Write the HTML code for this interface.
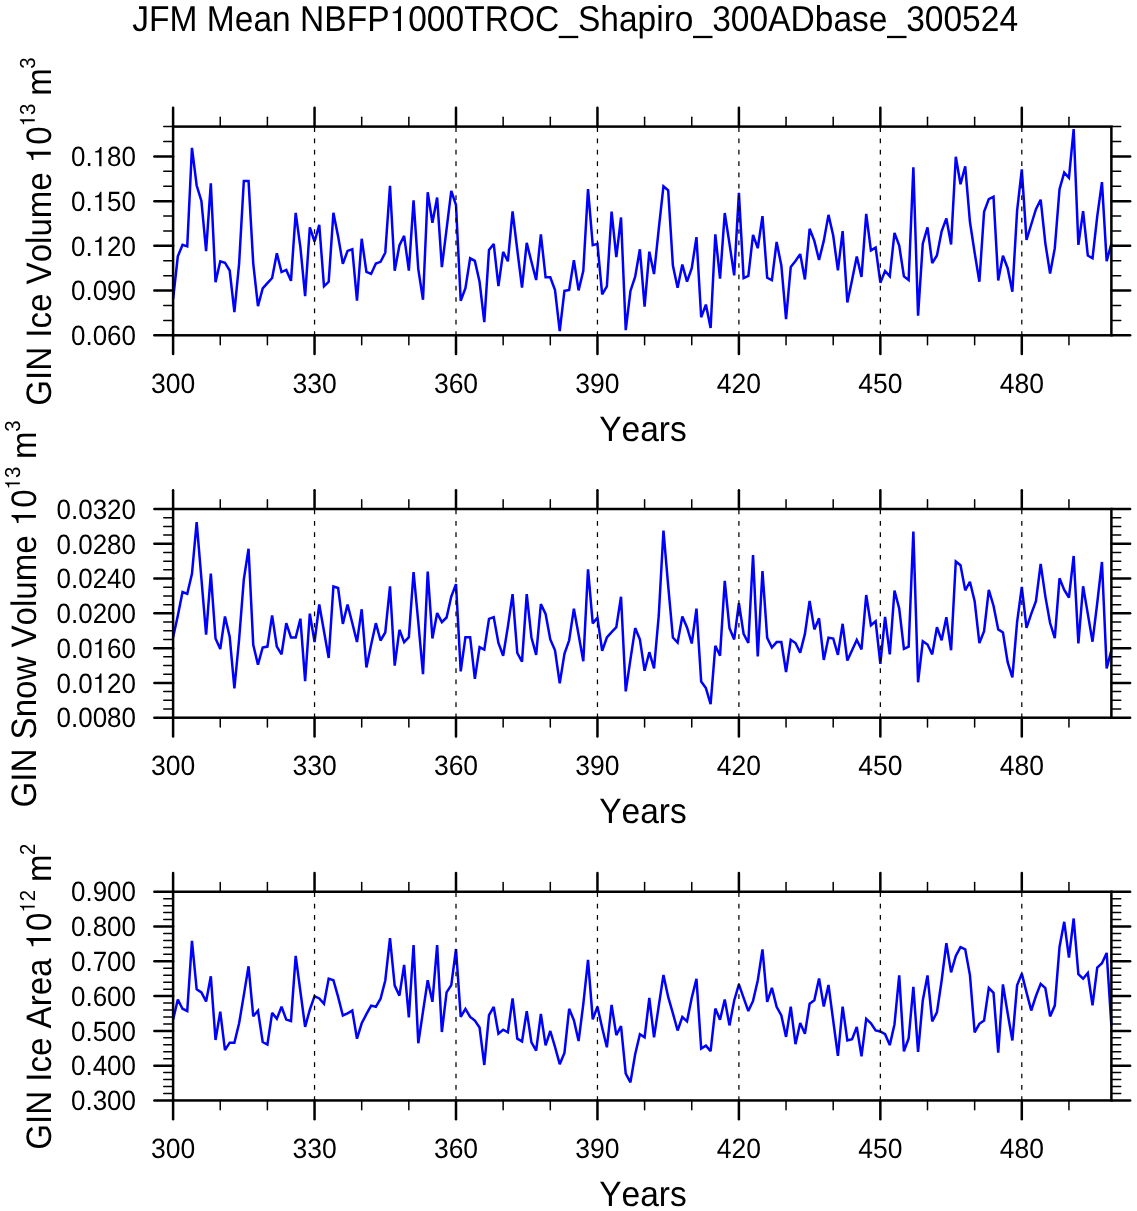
<!DOCTYPE html><html><head><meta charset="utf-8"><style>html,body{margin:0;padding:0;background:#fff;}svg{display:block;will-change:transform;}text{text-rendering:geometricPrecision;font-kerning:none;}.o1{fill-opacity:0;}</style></head><body>
<svg width="1137" height="1211" viewBox="0 0 1137 1211" font-family='"Liberation Sans", sans-serif'>
<rect width="1137" height="1211" fill="#fff"/>
<text transform="translate(132.3,30.9) scale(1,1.037)" font-size="34.6" fill="#000" textLength="885.8" lengthAdjust="spacingAndGlyphs">JFM Mean NBFP<tspan class="o1">1</tspan>000TROC_Shapiro_300ADbase_300524</text>
<polyline points="173.10,299.00 177.81,256.40 182.53,244.80 187.25,246.40 191.96,147.80 196.67,185.50 201.39,200.90 206.10,251.20 210.82,183.30 215.53,282.20 220.25,261.30 224.96,262.70 229.68,270.50 234.39,312.20 239.11,263.60 243.82,181.00 248.54,181.00 253.25,263.60 257.97,306.20 262.69,288.40 267.40,283.20 272.12,278.00 276.83,253.30 281.54,272.10 286.26,269.90 290.98,280.80 295.69,212.80 300.40,247.30 305.12,296.20 309.83,227.30 314.55,241.50 319.26,224.80 323.98,286.30 328.69,281.80 333.41,212.80 338.12,236.40 342.84,263.90 347.55,250.90 352.27,249.20 356.99,300.70 361.70,238.80 366.41,271.80 371.13,273.90 375.85,263.60 380.56,261.80 385.27,252.70 389.99,185.80 394.70,270.70 399.42,245.50 404.13,235.80 408.85,270.70 413.56,200.30 418.28,269.10 423.00,299.70 427.71,192.30 432.42,222.70 437.14,197.60 441.86,267.20 446.57,229.10 451.28,190.80 456.00,205.00 460.72,300.70 465.43,288.20 470.14,258.30 474.86,260.90 479.57,281.80 484.29,322.20 489.00,250.00 493.72,243.90 498.43,286.20 503.15,251.90 507.87,261.30 512.58,211.30 517.29,250.00 522.01,287.70 526.73,242.90 531.44,261.80 536.15,280.00 540.87,234.30 545.59,277.30 550.30,277.30 555.01,290.00 559.73,331.20 564.44,290.90 569.16,290.00 573.88,260.30 578.59,290.40 583.30,270.90 588.02,189.10 592.74,245.20 597.45,243.90 602.16,294.40 606.88,286.40 611.60,211.60 616.31,257.20 621.02,217.50 625.74,330.20 630.45,290.90 635.17,276.70 639.88,249.30 644.60,306.70 649.31,251.70 654.03,274.00 658.75,229.00 663.46,186.20 668.17,190.30 672.89,265.50 677.61,287.70 682.32,264.60 687.03,281.70 691.75,268.20 696.47,237.10 701.18,317.20 705.89,304.60 710.61,328.00 715.33,234.30 720.04,278.70 724.75,213.00 729.47,243.60 734.19,275.40 738.90,192.70 743.62,278.10 748.33,276.00 753.04,234.80 757.76,248.20 762.48,216.10 767.19,277.80 771.90,280.10 776.62,242.00 781.34,265.50 786.05,319.20 790.76,266.90 795.48,260.90 800.20,254.10 804.91,279.40 809.62,228.80 814.34,240.90 819.05,260.00 823.77,240.90 828.49,214.90 833.20,235.50 837.91,270.40 842.63,231.10 847.35,302.50 852.06,280.00 856.77,256.50 861.49,276.90 866.21,213.90 870.92,250.40 875.63,247.60 880.35,282.70 885.07,271.00 889.78,276.30 894.50,232.90 899.21,245.50 903.92,276.40 908.64,280.10 913.36,167.30 918.07,315.70 922.78,243.60 927.50,227.30 932.22,263.10 936.93,255.50 941.64,231.30 946.36,218.40 951.08,244.50 955.79,156.70 960.50,184.20 965.22,166.30 969.93,221.80 974.65,252.70 979.37,281.70 984.08,211.80 988.79,199.10 993.51,196.70 998.23,280.50 1002.94,255.80 1007.65,268.20 1012.37,291.70 1017.09,210.90 1021.80,169.40 1026.51,240.00 1031.23,224.50 1035.94,209.10 1040.66,199.70 1045.38,243.60 1050.09,273.60 1054.80,248.20 1059.52,189.10 1064.23,172.60 1068.95,177.80 1073.66,129.10 1078.38,244.90 1083.10,211.10 1087.81,255.50 1092.52,258.30 1097.24,216.40 1101.95,182.10 1106.67,261.30 1111.38,243.60" fill="none" stroke="#0000ff" stroke-width="2.5" stroke-linejoin="miter" stroke-miterlimit="2.5"/>
<g stroke="#000" stroke-linecap="round"><line x1="173.10" y1="107.85" x2="173.10" y2="126.60" stroke-width="2.5"/><line x1="173.10" y1="335.30" x2="173.10" y2="354.05" stroke-width="2.5"/><line x1="220.25" y1="117.25" x2="220.25" y2="126.60" stroke-width="1.5"/><line x1="220.25" y1="335.30" x2="220.25" y2="344.65" stroke-width="1.5"/><line x1="267.40" y1="117.25" x2="267.40" y2="126.60" stroke-width="1.5"/><line x1="267.40" y1="335.30" x2="267.40" y2="344.65" stroke-width="1.5"/><line x1="314.55" y1="107.85" x2="314.55" y2="126.60" stroke-width="2.5"/><line x1="314.55" y1="335.30" x2="314.55" y2="354.05" stroke-width="2.5"/><line x1="361.70" y1="117.25" x2="361.70" y2="126.60" stroke-width="1.5"/><line x1="361.70" y1="335.30" x2="361.70" y2="344.65" stroke-width="1.5"/><line x1="408.85" y1="117.25" x2="408.85" y2="126.60" stroke-width="1.5"/><line x1="408.85" y1="335.30" x2="408.85" y2="344.65" stroke-width="1.5"/><line x1="456.00" y1="107.85" x2="456.00" y2="126.60" stroke-width="2.5"/><line x1="456.00" y1="335.30" x2="456.00" y2="354.05" stroke-width="2.5"/><line x1="503.15" y1="117.25" x2="503.15" y2="126.60" stroke-width="1.5"/><line x1="503.15" y1="335.30" x2="503.15" y2="344.65" stroke-width="1.5"/><line x1="550.30" y1="117.25" x2="550.30" y2="126.60" stroke-width="1.5"/><line x1="550.30" y1="335.30" x2="550.30" y2="344.65" stroke-width="1.5"/><line x1="597.45" y1="107.85" x2="597.45" y2="126.60" stroke-width="2.5"/><line x1="597.45" y1="335.30" x2="597.45" y2="354.05" stroke-width="2.5"/><line x1="644.60" y1="117.25" x2="644.60" y2="126.60" stroke-width="1.5"/><line x1="644.60" y1="335.30" x2="644.60" y2="344.65" stroke-width="1.5"/><line x1="691.75" y1="117.25" x2="691.75" y2="126.60" stroke-width="1.5"/><line x1="691.75" y1="335.30" x2="691.75" y2="344.65" stroke-width="1.5"/><line x1="738.90" y1="107.85" x2="738.90" y2="126.60" stroke-width="2.5"/><line x1="738.90" y1="335.30" x2="738.90" y2="354.05" stroke-width="2.5"/><line x1="786.05" y1="117.25" x2="786.05" y2="126.60" stroke-width="1.5"/><line x1="786.05" y1="335.30" x2="786.05" y2="344.65" stroke-width="1.5"/><line x1="833.20" y1="117.25" x2="833.20" y2="126.60" stroke-width="1.5"/><line x1="833.20" y1="335.30" x2="833.20" y2="344.65" stroke-width="1.5"/><line x1="880.35" y1="107.85" x2="880.35" y2="126.60" stroke-width="2.5"/><line x1="880.35" y1="335.30" x2="880.35" y2="354.05" stroke-width="2.5"/><line x1="927.50" y1="117.25" x2="927.50" y2="126.60" stroke-width="1.5"/><line x1="927.50" y1="335.30" x2="927.50" y2="344.65" stroke-width="1.5"/><line x1="974.65" y1="117.25" x2="974.65" y2="126.60" stroke-width="1.5"/><line x1="974.65" y1="335.30" x2="974.65" y2="344.65" stroke-width="1.5"/><line x1="1021.80" y1="107.85" x2="1021.80" y2="126.60" stroke-width="2.5"/><line x1="1021.80" y1="335.30" x2="1021.80" y2="354.05" stroke-width="2.5"/><line x1="1068.95" y1="117.25" x2="1068.95" y2="126.60" stroke-width="1.5"/><line x1="1068.95" y1="335.30" x2="1068.95" y2="344.65" stroke-width="1.5"/><line x1="154.35" y1="335.30" x2="173.10" y2="335.30" stroke-width="2.5"/><line x1="1111.38" y1="335.30" x2="1130.13" y2="335.30" stroke-width="2.5"/><line x1="163.75" y1="320.39" x2="173.10" y2="320.39" stroke-width="1.5"/><line x1="1111.38" y1="320.39" x2="1120.73" y2="320.39" stroke-width="1.5"/><line x1="163.75" y1="305.49" x2="173.10" y2="305.49" stroke-width="1.5"/><line x1="1111.38" y1="305.49" x2="1120.73" y2="305.49" stroke-width="1.5"/><line x1="154.35" y1="290.58" x2="173.10" y2="290.58" stroke-width="2.5"/><line x1="1111.38" y1="290.58" x2="1130.13" y2="290.58" stroke-width="2.5"/><line x1="163.75" y1="275.67" x2="173.10" y2="275.67" stroke-width="1.5"/><line x1="1111.38" y1="275.67" x2="1120.73" y2="275.67" stroke-width="1.5"/><line x1="163.75" y1="260.76" x2="173.10" y2="260.76" stroke-width="1.5"/><line x1="1111.38" y1="260.76" x2="1120.73" y2="260.76" stroke-width="1.5"/><line x1="154.35" y1="245.86" x2="173.10" y2="245.86" stroke-width="2.5"/><line x1="1111.38" y1="245.86" x2="1130.13" y2="245.86" stroke-width="2.5"/><line x1="163.75" y1="230.95" x2="173.10" y2="230.95" stroke-width="1.5"/><line x1="1111.38" y1="230.95" x2="1120.73" y2="230.95" stroke-width="1.5"/><line x1="163.75" y1="216.04" x2="173.10" y2="216.04" stroke-width="1.5"/><line x1="1111.38" y1="216.04" x2="1120.73" y2="216.04" stroke-width="1.5"/><line x1="154.35" y1="201.14" x2="173.10" y2="201.14" stroke-width="2.5"/><line x1="1111.38" y1="201.14" x2="1130.13" y2="201.14" stroke-width="2.5"/><line x1="163.75" y1="186.23" x2="173.10" y2="186.23" stroke-width="1.5"/><line x1="1111.38" y1="186.23" x2="1120.73" y2="186.23" stroke-width="1.5"/><line x1="163.75" y1="171.32" x2="173.10" y2="171.32" stroke-width="1.5"/><line x1="1111.38" y1="171.32" x2="1120.73" y2="171.32" stroke-width="1.5"/><line x1="154.35" y1="156.41" x2="173.10" y2="156.41" stroke-width="2.5"/><line x1="1111.38" y1="156.41" x2="1130.13" y2="156.41" stroke-width="2.5"/><line x1="163.75" y1="141.51" x2="173.10" y2="141.51" stroke-width="1.5"/><line x1="1111.38" y1="141.51" x2="1120.73" y2="141.51" stroke-width="1.5"/><line x1="163.75" y1="126.60" x2="173.10" y2="126.60" stroke-width="1.5"/><line x1="1111.38" y1="126.60" x2="1120.73" y2="126.60" stroke-width="1.5"/></g>
<rect x="173.10" y="126.60" width="938.28" height="208.70" fill="none" stroke="#000" stroke-width="2.5"/>
<line x1="314.55" y1="127.20" x2="314.55" y2="335.30" stroke="#000" stroke-width="1.25" stroke-dasharray="4.7 6.63"/>
<line x1="456.00" y1="127.20" x2="456.00" y2="335.30" stroke="#000" stroke-width="1.25" stroke-dasharray="4.7 6.63"/>
<line x1="597.45" y1="127.20" x2="597.45" y2="335.30" stroke="#000" stroke-width="1.25" stroke-dasharray="4.7 6.63"/>
<line x1="738.90" y1="127.20" x2="738.90" y2="335.30" stroke="#000" stroke-width="1.25" stroke-dasharray="4.7 6.63"/>
<line x1="880.35" y1="127.20" x2="880.35" y2="335.30" stroke="#000" stroke-width="1.25" stroke-dasharray="4.7 6.63"/>
<line x1="1021.80" y1="127.20" x2="1021.80" y2="335.30" stroke="#000" stroke-width="1.25" stroke-dasharray="4.7 6.63"/>
<text transform="translate(136.0,335.60) scale(0.98,1.05)" font-size="26.5" text-anchor="end" dominant-baseline="central">0.060</text>
<text transform="translate(136.0,290.88) scale(0.98,1.05)" font-size="26.5" text-anchor="end" dominant-baseline="central">0.090</text>
<text transform="translate(136.0,246.16) scale(0.98,1.05)" font-size="26.5" text-anchor="end" dominant-baseline="central">0.<tspan class="o1">1</tspan>20</text>
<text transform="translate(136.0,201.44) scale(0.98,1.05)" font-size="26.5" text-anchor="end" dominant-baseline="central">0.<tspan class="o1">1</tspan>50</text>
<text transform="translate(136.0,156.71) scale(0.98,1.05)" font-size="26.5" text-anchor="end" dominant-baseline="central">0.<tspan class="o1">1</tspan>80</text>
<text transform="translate(173.10,392.60) scale(1,1.05)" font-size="26.5" text-anchor="middle">300</text>
<text transform="translate(314.55,392.60) scale(1,1.05)" font-size="26.5" text-anchor="middle">330</text>
<text transform="translate(456.00,392.60) scale(1,1.05)" font-size="26.5" text-anchor="middle">360</text>
<text transform="translate(597.45,392.60) scale(1,1.05)" font-size="26.5" text-anchor="middle">390</text>
<text transform="translate(738.90,392.60) scale(1,1.05)" font-size="26.5" text-anchor="middle">420</text>
<text transform="translate(880.35,392.60) scale(1,1.05)" font-size="26.5" text-anchor="middle">450</text>
<text transform="translate(1021.80,392.60) scale(1,1.05)" font-size="26.5" text-anchor="middle">480</text>
<text transform="translate(643.00,440.75) scale(1,1.056)" font-size="33.5" text-anchor="middle">Years</text>
<text transform="translate(50.80,231.55) rotate(-90) scale(1,1.07)" font-size="33.1" text-anchor="middle">GIN Ice Volume <tspan class="o1">1</tspan>0<tspan font-size="20.3" dy="-15"><tspan class="o1">1</tspan>3</tspan><tspan dy="15" dx="-1.3"> m</tspan><tspan font-size="20.3" dy="-15" dx="-0.4">3</tspan></text>
<polyline points="173.10,637.20 177.81,615.70 182.53,592.00 187.25,593.80 191.96,573.90 196.67,522.10 201.39,578.50 206.10,634.70 210.82,573.60 215.53,638.50 220.25,649.00 224.96,616.50 229.68,636.60 234.39,688.30 239.11,639.40 243.82,579.40 248.54,548.80 253.25,644.80 257.97,664.70 262.69,647.50 267.40,646.60 272.12,615.40 276.83,646.60 281.54,654.40 286.26,623.20 290.98,637.50 295.69,637.50 300.40,618.70 305.12,681.10 309.83,613.60 314.55,642.00 319.26,604.50 323.98,631.20 328.69,658.00 333.41,586.50 338.12,588.00 342.84,623.90 347.55,604.50 352.27,623.00 356.99,642.00 361.70,609.30 366.41,667.40 371.13,644.80 375.85,623.20 380.56,640.50 385.27,632.50 389.99,586.30 394.70,665.60 399.42,629.80 404.13,642.10 408.85,637.20 413.56,572.00 418.28,622.10 423.00,674.20 427.71,571.50 432.42,638.40 437.14,613.10 441.86,622.20 446.57,617.50 451.28,596.60 456.00,584.10 460.72,671.40 465.43,637.20 470.14,637.20 474.86,678.90 479.57,647.10 484.29,649.60 489.00,618.80 493.72,617.10 498.43,643.00 503.15,655.70 507.87,626.60 512.58,594.10 517.29,653.00 522.01,661.70 526.73,594.10 531.44,637.50 536.15,654.80 540.87,604.10 545.59,614.00 550.30,639.40 555.01,650.30 559.73,683.40 564.44,653.90 569.16,640.30 573.88,608.70 578.59,634.80 583.30,661.20 588.02,569.30 592.74,623.40 597.45,617.70 602.16,650.80 606.88,637.50 611.60,632.10 616.31,627.20 621.02,596.80 625.74,691.40 630.45,659.40 635.17,628.10 639.88,639.40 644.60,670.80 649.31,652.20 654.03,668.40 658.75,615.70 663.46,530.60 668.17,585.70 672.89,637.50 677.61,642.60 682.32,616.50 687.03,627.50 691.75,643.50 696.47,608.70 701.18,681.50 705.89,688.10 710.61,704.20 715.33,645.80 720.04,655.70 724.75,580.80 729.47,628.10 734.19,639.40 738.90,603.20 743.62,633.90 748.33,643.00 753.04,555.10 757.76,656.50 762.48,571.10 767.19,637.90 771.90,647.50 776.62,642.10 781.34,642.10 786.05,672.00 790.76,639.80 795.48,643.00 800.20,652.60 804.91,633.90 809.62,601.00 814.34,629.40 819.05,618.30 823.77,659.90 828.49,637.60 833.20,638.50 837.91,654.80 842.63,623.80 847.35,660.60 852.06,650.30 856.77,639.90 861.49,649.50 866.21,595.00 870.92,625.30 875.63,621.30 880.35,663.80 885.07,616.80 889.78,654.40 894.50,590.50 899.21,608.50 903.92,648.80 908.64,646.60 913.36,531.50 918.07,682.30 922.78,641.30 927.50,644.50 932.22,654.40 936.93,627.30 941.64,640.30 946.36,617.20 951.08,650.20 955.79,561.50 960.50,565.20 965.22,590.30 969.93,581.80 974.65,601.20 979.37,643.00 984.08,631.20 988.79,589.90 993.51,605.70 998.23,629.40 1002.94,632.50 1007.65,662.10 1012.37,677.40 1017.09,622.10 1021.80,586.80 1026.51,627.90 1031.23,613.90 1035.94,601.20 1040.66,563.90 1045.38,596.60 1050.09,623.00 1054.80,638.10 1059.52,578.30 1064.23,589.90 1068.95,597.50 1073.66,556.00 1078.38,643.50 1083.10,586.30 1087.81,613.90 1092.52,641.70 1097.24,603.00 1101.95,562.00 1106.67,668.40 1111.38,650.30" fill="none" stroke="#0000ff" stroke-width="2.5" stroke-linejoin="miter" stroke-miterlimit="2.5"/>
<g stroke="#000" stroke-linecap="round"><line x1="173.10" y1="490.25" x2="173.10" y2="509.00" stroke-width="2.5"/><line x1="173.10" y1="717.70" x2="173.10" y2="736.45" stroke-width="2.5"/><line x1="220.25" y1="499.65" x2="220.25" y2="509.00" stroke-width="1.5"/><line x1="220.25" y1="717.70" x2="220.25" y2="727.05" stroke-width="1.5"/><line x1="267.40" y1="499.65" x2="267.40" y2="509.00" stroke-width="1.5"/><line x1="267.40" y1="717.70" x2="267.40" y2="727.05" stroke-width="1.5"/><line x1="314.55" y1="490.25" x2="314.55" y2="509.00" stroke-width="2.5"/><line x1="314.55" y1="717.70" x2="314.55" y2="736.45" stroke-width="2.5"/><line x1="361.70" y1="499.65" x2="361.70" y2="509.00" stroke-width="1.5"/><line x1="361.70" y1="717.70" x2="361.70" y2="727.05" stroke-width="1.5"/><line x1="408.85" y1="499.65" x2="408.85" y2="509.00" stroke-width="1.5"/><line x1="408.85" y1="717.70" x2="408.85" y2="727.05" stroke-width="1.5"/><line x1="456.00" y1="490.25" x2="456.00" y2="509.00" stroke-width="2.5"/><line x1="456.00" y1="717.70" x2="456.00" y2="736.45" stroke-width="2.5"/><line x1="503.15" y1="499.65" x2="503.15" y2="509.00" stroke-width="1.5"/><line x1="503.15" y1="717.70" x2="503.15" y2="727.05" stroke-width="1.5"/><line x1="550.30" y1="499.65" x2="550.30" y2="509.00" stroke-width="1.5"/><line x1="550.30" y1="717.70" x2="550.30" y2="727.05" stroke-width="1.5"/><line x1="597.45" y1="490.25" x2="597.45" y2="509.00" stroke-width="2.5"/><line x1="597.45" y1="717.70" x2="597.45" y2="736.45" stroke-width="2.5"/><line x1="644.60" y1="499.65" x2="644.60" y2="509.00" stroke-width="1.5"/><line x1="644.60" y1="717.70" x2="644.60" y2="727.05" stroke-width="1.5"/><line x1="691.75" y1="499.65" x2="691.75" y2="509.00" stroke-width="1.5"/><line x1="691.75" y1="717.70" x2="691.75" y2="727.05" stroke-width="1.5"/><line x1="738.90" y1="490.25" x2="738.90" y2="509.00" stroke-width="2.5"/><line x1="738.90" y1="717.70" x2="738.90" y2="736.45" stroke-width="2.5"/><line x1="786.05" y1="499.65" x2="786.05" y2="509.00" stroke-width="1.5"/><line x1="786.05" y1="717.70" x2="786.05" y2="727.05" stroke-width="1.5"/><line x1="833.20" y1="499.65" x2="833.20" y2="509.00" stroke-width="1.5"/><line x1="833.20" y1="717.70" x2="833.20" y2="727.05" stroke-width="1.5"/><line x1="880.35" y1="490.25" x2="880.35" y2="509.00" stroke-width="2.5"/><line x1="880.35" y1="717.70" x2="880.35" y2="736.45" stroke-width="2.5"/><line x1="927.50" y1="499.65" x2="927.50" y2="509.00" stroke-width="1.5"/><line x1="927.50" y1="717.70" x2="927.50" y2="727.05" stroke-width="1.5"/><line x1="974.65" y1="499.65" x2="974.65" y2="509.00" stroke-width="1.5"/><line x1="974.65" y1="717.70" x2="974.65" y2="727.05" stroke-width="1.5"/><line x1="1021.80" y1="490.25" x2="1021.80" y2="509.00" stroke-width="2.5"/><line x1="1021.80" y1="717.70" x2="1021.80" y2="736.45" stroke-width="2.5"/><line x1="1068.95" y1="499.65" x2="1068.95" y2="509.00" stroke-width="1.5"/><line x1="1068.95" y1="717.70" x2="1068.95" y2="727.05" stroke-width="1.5"/><line x1="154.35" y1="717.70" x2="173.10" y2="717.70" stroke-width="2.5"/><line x1="1111.38" y1="717.70" x2="1130.13" y2="717.70" stroke-width="2.5"/><line x1="163.75" y1="709.00" x2="173.10" y2="709.00" stroke-width="1.5"/><line x1="1111.38" y1="709.00" x2="1120.73" y2="709.00" stroke-width="1.5"/><line x1="163.75" y1="700.31" x2="173.10" y2="700.31" stroke-width="1.5"/><line x1="1111.38" y1="700.31" x2="1120.73" y2="700.31" stroke-width="1.5"/><line x1="163.75" y1="691.61" x2="173.10" y2="691.61" stroke-width="1.5"/><line x1="1111.38" y1="691.61" x2="1120.73" y2="691.61" stroke-width="1.5"/><line x1="154.35" y1="682.92" x2="173.10" y2="682.92" stroke-width="2.5"/><line x1="1111.38" y1="682.92" x2="1130.13" y2="682.92" stroke-width="2.5"/><line x1="163.75" y1="674.22" x2="173.10" y2="674.22" stroke-width="1.5"/><line x1="1111.38" y1="674.22" x2="1120.73" y2="674.22" stroke-width="1.5"/><line x1="163.75" y1="665.53" x2="173.10" y2="665.53" stroke-width="1.5"/><line x1="1111.38" y1="665.53" x2="1120.73" y2="665.53" stroke-width="1.5"/><line x1="163.75" y1="656.83" x2="173.10" y2="656.83" stroke-width="1.5"/><line x1="1111.38" y1="656.83" x2="1120.73" y2="656.83" stroke-width="1.5"/><line x1="154.35" y1="648.13" x2="173.10" y2="648.13" stroke-width="2.5"/><line x1="1111.38" y1="648.13" x2="1130.13" y2="648.13" stroke-width="2.5"/><line x1="163.75" y1="639.44" x2="173.10" y2="639.44" stroke-width="1.5"/><line x1="1111.38" y1="639.44" x2="1120.73" y2="639.44" stroke-width="1.5"/><line x1="163.75" y1="630.74" x2="173.10" y2="630.74" stroke-width="1.5"/><line x1="1111.38" y1="630.74" x2="1120.73" y2="630.74" stroke-width="1.5"/><line x1="163.75" y1="622.05" x2="173.10" y2="622.05" stroke-width="1.5"/><line x1="1111.38" y1="622.05" x2="1120.73" y2="622.05" stroke-width="1.5"/><line x1="154.35" y1="613.35" x2="173.10" y2="613.35" stroke-width="2.5"/><line x1="1111.38" y1="613.35" x2="1130.13" y2="613.35" stroke-width="2.5"/><line x1="163.75" y1="604.65" x2="173.10" y2="604.65" stroke-width="1.5"/><line x1="1111.38" y1="604.65" x2="1120.73" y2="604.65" stroke-width="1.5"/><line x1="163.75" y1="595.96" x2="173.10" y2="595.96" stroke-width="1.5"/><line x1="1111.38" y1="595.96" x2="1120.73" y2="595.96" stroke-width="1.5"/><line x1="163.75" y1="587.26" x2="173.10" y2="587.26" stroke-width="1.5"/><line x1="1111.38" y1="587.26" x2="1120.73" y2="587.26" stroke-width="1.5"/><line x1="154.35" y1="578.57" x2="173.10" y2="578.57" stroke-width="2.5"/><line x1="1111.38" y1="578.57" x2="1130.13" y2="578.57" stroke-width="2.5"/><line x1="163.75" y1="569.87" x2="173.10" y2="569.87" stroke-width="1.5"/><line x1="1111.38" y1="569.87" x2="1120.73" y2="569.87" stroke-width="1.5"/><line x1="163.75" y1="561.18" x2="173.10" y2="561.18" stroke-width="1.5"/><line x1="1111.38" y1="561.18" x2="1120.73" y2="561.18" stroke-width="1.5"/><line x1="163.75" y1="552.48" x2="173.10" y2="552.48" stroke-width="1.5"/><line x1="1111.38" y1="552.48" x2="1120.73" y2="552.48" stroke-width="1.5"/><line x1="154.35" y1="543.78" x2="173.10" y2="543.78" stroke-width="2.5"/><line x1="1111.38" y1="543.78" x2="1130.13" y2="543.78" stroke-width="2.5"/><line x1="163.75" y1="535.09" x2="173.10" y2="535.09" stroke-width="1.5"/><line x1="1111.38" y1="535.09" x2="1120.73" y2="535.09" stroke-width="1.5"/><line x1="163.75" y1="526.39" x2="173.10" y2="526.39" stroke-width="1.5"/><line x1="1111.38" y1="526.39" x2="1120.73" y2="526.39" stroke-width="1.5"/><line x1="163.75" y1="517.70" x2="173.10" y2="517.70" stroke-width="1.5"/><line x1="1111.38" y1="517.70" x2="1120.73" y2="517.70" stroke-width="1.5"/><line x1="154.35" y1="509.00" x2="173.10" y2="509.00" stroke-width="2.5"/><line x1="1111.38" y1="509.00" x2="1130.13" y2="509.00" stroke-width="2.5"/></g>
<rect x="173.10" y="509.00" width="938.28" height="208.70" fill="none" stroke="#000" stroke-width="2.5"/>
<line x1="314.55" y1="509.60" x2="314.55" y2="717.70" stroke="#000" stroke-width="1.25" stroke-dasharray="4.7 6.63"/>
<line x1="456.00" y1="509.60" x2="456.00" y2="717.70" stroke="#000" stroke-width="1.25" stroke-dasharray="4.7 6.63"/>
<line x1="597.45" y1="509.60" x2="597.45" y2="717.70" stroke="#000" stroke-width="1.25" stroke-dasharray="4.7 6.63"/>
<line x1="738.90" y1="509.60" x2="738.90" y2="717.70" stroke="#000" stroke-width="1.25" stroke-dasharray="4.7 6.63"/>
<line x1="880.35" y1="509.60" x2="880.35" y2="717.70" stroke="#000" stroke-width="1.25" stroke-dasharray="4.7 6.63"/>
<line x1="1021.80" y1="509.60" x2="1021.80" y2="717.70" stroke="#000" stroke-width="1.25" stroke-dasharray="4.7 6.63"/>
<text transform="translate(136.0,718.00) scale(0.98,1.05)" font-size="26.5" text-anchor="end" dominant-baseline="central">0.0080</text>
<text transform="translate(136.0,683.22) scale(0.98,1.05)" font-size="26.5" text-anchor="end" dominant-baseline="central">0.0<tspan class="o1">1</tspan>20</text>
<text transform="translate(136.0,648.43) scale(0.98,1.05)" font-size="26.5" text-anchor="end" dominant-baseline="central">0.0<tspan class="o1">1</tspan>60</text>
<text transform="translate(136.0,613.65) scale(0.98,1.05)" font-size="26.5" text-anchor="end" dominant-baseline="central">0.0200</text>
<text transform="translate(136.0,578.87) scale(0.98,1.05)" font-size="26.5" text-anchor="end" dominant-baseline="central">0.0240</text>
<text transform="translate(136.0,544.08) scale(0.98,1.05)" font-size="26.5" text-anchor="end" dominant-baseline="central">0.0280</text>
<text transform="translate(136.0,509.30) scale(0.98,1.05)" font-size="26.5" text-anchor="end" dominant-baseline="central">0.0320</text>
<text transform="translate(173.10,775.00) scale(1,1.05)" font-size="26.5" text-anchor="middle">300</text>
<text transform="translate(314.55,775.00) scale(1,1.05)" font-size="26.5" text-anchor="middle">330</text>
<text transform="translate(456.00,775.00) scale(1,1.05)" font-size="26.5" text-anchor="middle">360</text>
<text transform="translate(597.45,775.00) scale(1,1.05)" font-size="26.5" text-anchor="middle">390</text>
<text transform="translate(738.90,775.00) scale(1,1.05)" font-size="26.5" text-anchor="middle">420</text>
<text transform="translate(880.35,775.00) scale(1,1.05)" font-size="26.5" text-anchor="middle">450</text>
<text transform="translate(1021.80,775.00) scale(1,1.05)" font-size="26.5" text-anchor="middle">480</text>
<text transform="translate(643.00,823.15) scale(1,1.056)" font-size="33.5" text-anchor="middle">Years</text>
<text transform="translate(35.90,613.95) rotate(-90) scale(1,1.07)" font-size="33.1" text-anchor="middle">GIN Snow Volume <tspan class="o1">1</tspan>0<tspan font-size="20.3" dy="-15"><tspan class="o1">1</tspan>3</tspan><tspan dy="15" dx="-1.3"> m</tspan><tspan font-size="20.3" dy="-15" dx="-0.4">3</tspan></text>
<polyline points="173.10,1019.60 177.81,999.50 182.53,1008.70 187.25,1011.10 191.96,940.90 196.67,989.30 201.39,992.40 206.10,1001.40 210.82,976.30 215.53,1040.00 220.25,1011.70 224.96,1050.10 229.68,1042.70 234.39,1042.70 239.11,1023.30 243.82,995.10 248.54,966.30 253.25,1016.30 257.97,1010.70 262.69,1042.00 267.40,1044.50 272.12,1012.90 276.83,1018.80 281.54,1006.70 286.26,1019.60 290.98,1021.00 295.69,955.90 300.40,991.50 305.12,1026.90 309.83,1009.60 314.55,996.20 319.26,998.40 323.98,1003.80 328.69,978.60 333.41,980.20 338.12,996.90 342.84,1015.50 347.55,1013.30 352.27,1010.60 356.99,1038.70 361.70,1023.30 366.41,1014.20 371.13,1005.60 375.85,1006.80 380.56,998.70 385.27,980.50 389.99,938.10 394.70,985.60 399.42,995.60 404.13,964.90 408.85,1017.40 413.56,945.00 418.28,1043.30 423.00,1011.50 427.71,980.20 432.42,1001.80 437.14,945.00 441.86,1032.00 446.57,992.40 451.28,985.10 456.00,949.00 460.72,1016.90 465.43,1008.90 470.14,1016.90 474.86,1020.50 479.57,1027.50 484.29,1065.00 489.00,1015.10 493.72,1007.00 498.43,1033.60 503.15,1029.70 507.87,1032.30 512.58,998.40 517.29,1038.70 522.01,1041.40 526.73,1011.10 531.44,1042.40 536.15,1050.50 540.87,1014.00 545.59,1045.40 550.30,1031.00 555.01,1046.90 559.73,1064.20 564.44,1052.90 569.16,1008.80 573.88,1020.20 578.59,1041.10 583.30,1004.20 588.02,959.90 592.74,1019.30 597.45,1006.70 602.16,1027.80 606.88,1047.30 611.60,1004.90 616.31,1035.10 621.02,1026.10 625.74,1073.60 630.45,1082.30 635.17,1054.20 639.88,1034.30 644.60,1037.30 649.31,998.00 654.03,1037.40 658.75,1006.00 663.46,974.90 668.17,996.90 672.89,1013.30 677.61,1030.50 682.32,1017.00 687.03,1021.30 691.75,997.80 696.47,978.90 701.18,1048.60 705.89,1045.60 710.61,1051.10 715.33,1008.60 720.04,1019.70 724.75,999.50 729.47,1025.40 734.19,1000.50 738.90,984.40 743.62,997.80 748.33,1011.10 753.04,1000.90 757.76,980.50 762.48,949.40 767.19,1001.80 771.90,987.90 776.62,1006.90 781.34,1015.50 786.05,1036.90 790.76,1006.70 795.48,1044.20 800.20,1023.00 804.91,1033.80 809.62,1003.80 814.34,1000.20 819.05,978.40 823.77,1006.50 828.49,984.90 833.20,1020.50 837.91,1055.90 842.63,1006.70 847.35,1040.40 852.06,1039.10 856.77,1027.00 861.49,1056.30 866.21,1018.80 870.92,1023.30 875.63,1030.50 880.35,1031.50 885.07,1034.20 889.78,1045.10 894.50,1024.20 899.21,975.40 903.92,1051.30 908.64,1038.40 913.36,986.80 918.07,1052.00 922.78,1000.50 927.50,975.40 932.22,1021.40 936.93,1012.40 941.64,980.50 946.36,943.20 951.08,972.40 955.79,956.00 960.50,947.20 965.22,949.30 969.93,975.10 974.65,1032.40 979.37,1023.80 984.08,1020.50 988.79,988.00 993.51,992.90 998.23,1052.70 1002.94,984.40 1007.65,1013.30 1012.37,1040.50 1017.09,985.30 1021.80,973.60 1026.51,992.40 1031.23,1010.50 1035.94,996.00 1040.66,983.90 1045.38,988.20 1050.09,1016.40 1054.80,1005.60 1059.52,946.90 1064.23,921.80 1068.95,957.70 1073.66,918.50 1078.38,974.20 1083.10,978.70 1087.81,973.00 1092.52,1005.40 1097.24,967.50 1101.95,963.30 1106.67,952.90 1111.38,1025.50" fill="none" stroke="#0000ff" stroke-width="2.5" stroke-linejoin="miter" stroke-miterlimit="2.5"/>
<g stroke="#000" stroke-linecap="round"><line x1="173.10" y1="873.00" x2="173.10" y2="891.75" stroke-width="2.5"/><line x1="173.10" y1="1100.45" x2="173.10" y2="1119.20" stroke-width="2.5"/><line x1="220.25" y1="882.40" x2="220.25" y2="891.75" stroke-width="1.5"/><line x1="220.25" y1="1100.45" x2="220.25" y2="1109.80" stroke-width="1.5"/><line x1="267.40" y1="882.40" x2="267.40" y2="891.75" stroke-width="1.5"/><line x1="267.40" y1="1100.45" x2="267.40" y2="1109.80" stroke-width="1.5"/><line x1="314.55" y1="873.00" x2="314.55" y2="891.75" stroke-width="2.5"/><line x1="314.55" y1="1100.45" x2="314.55" y2="1119.20" stroke-width="2.5"/><line x1="361.70" y1="882.40" x2="361.70" y2="891.75" stroke-width="1.5"/><line x1="361.70" y1="1100.45" x2="361.70" y2="1109.80" stroke-width="1.5"/><line x1="408.85" y1="882.40" x2="408.85" y2="891.75" stroke-width="1.5"/><line x1="408.85" y1="1100.45" x2="408.85" y2="1109.80" stroke-width="1.5"/><line x1="456.00" y1="873.00" x2="456.00" y2="891.75" stroke-width="2.5"/><line x1="456.00" y1="1100.45" x2="456.00" y2="1119.20" stroke-width="2.5"/><line x1="503.15" y1="882.40" x2="503.15" y2="891.75" stroke-width="1.5"/><line x1="503.15" y1="1100.45" x2="503.15" y2="1109.80" stroke-width="1.5"/><line x1="550.30" y1="882.40" x2="550.30" y2="891.75" stroke-width="1.5"/><line x1="550.30" y1="1100.45" x2="550.30" y2="1109.80" stroke-width="1.5"/><line x1="597.45" y1="873.00" x2="597.45" y2="891.75" stroke-width="2.5"/><line x1="597.45" y1="1100.45" x2="597.45" y2="1119.20" stroke-width="2.5"/><line x1="644.60" y1="882.40" x2="644.60" y2="891.75" stroke-width="1.5"/><line x1="644.60" y1="1100.45" x2="644.60" y2="1109.80" stroke-width="1.5"/><line x1="691.75" y1="882.40" x2="691.75" y2="891.75" stroke-width="1.5"/><line x1="691.75" y1="1100.45" x2="691.75" y2="1109.80" stroke-width="1.5"/><line x1="738.90" y1="873.00" x2="738.90" y2="891.75" stroke-width="2.5"/><line x1="738.90" y1="1100.45" x2="738.90" y2="1119.20" stroke-width="2.5"/><line x1="786.05" y1="882.40" x2="786.05" y2="891.75" stroke-width="1.5"/><line x1="786.05" y1="1100.45" x2="786.05" y2="1109.80" stroke-width="1.5"/><line x1="833.20" y1="882.40" x2="833.20" y2="891.75" stroke-width="1.5"/><line x1="833.20" y1="1100.45" x2="833.20" y2="1109.80" stroke-width="1.5"/><line x1="880.35" y1="873.00" x2="880.35" y2="891.75" stroke-width="2.5"/><line x1="880.35" y1="1100.45" x2="880.35" y2="1119.20" stroke-width="2.5"/><line x1="927.50" y1="882.40" x2="927.50" y2="891.75" stroke-width="1.5"/><line x1="927.50" y1="1100.45" x2="927.50" y2="1109.80" stroke-width="1.5"/><line x1="974.65" y1="882.40" x2="974.65" y2="891.75" stroke-width="1.5"/><line x1="974.65" y1="1100.45" x2="974.65" y2="1109.80" stroke-width="1.5"/><line x1="1021.80" y1="873.00" x2="1021.80" y2="891.75" stroke-width="2.5"/><line x1="1021.80" y1="1100.45" x2="1021.80" y2="1119.20" stroke-width="2.5"/><line x1="1068.95" y1="882.40" x2="1068.95" y2="891.75" stroke-width="1.5"/><line x1="1068.95" y1="1100.45" x2="1068.95" y2="1109.80" stroke-width="1.5"/><line x1="154.35" y1="1100.45" x2="173.10" y2="1100.45" stroke-width="2.5"/><line x1="1111.38" y1="1100.45" x2="1130.13" y2="1100.45" stroke-width="2.5"/><line x1="163.75" y1="1093.49" x2="173.10" y2="1093.49" stroke-width="1.5"/><line x1="1111.38" y1="1093.49" x2="1120.73" y2="1093.49" stroke-width="1.5"/><line x1="163.75" y1="1086.54" x2="173.10" y2="1086.54" stroke-width="1.5"/><line x1="1111.38" y1="1086.54" x2="1120.73" y2="1086.54" stroke-width="1.5"/><line x1="163.75" y1="1079.58" x2="173.10" y2="1079.58" stroke-width="1.5"/><line x1="1111.38" y1="1079.58" x2="1120.73" y2="1079.58" stroke-width="1.5"/><line x1="163.75" y1="1072.62" x2="173.10" y2="1072.62" stroke-width="1.5"/><line x1="1111.38" y1="1072.62" x2="1120.73" y2="1072.62" stroke-width="1.5"/><line x1="154.35" y1="1065.67" x2="173.10" y2="1065.67" stroke-width="2.5"/><line x1="1111.38" y1="1065.67" x2="1130.13" y2="1065.67" stroke-width="2.5"/><line x1="163.75" y1="1058.71" x2="173.10" y2="1058.71" stroke-width="1.5"/><line x1="1111.38" y1="1058.71" x2="1120.73" y2="1058.71" stroke-width="1.5"/><line x1="163.75" y1="1051.75" x2="173.10" y2="1051.75" stroke-width="1.5"/><line x1="1111.38" y1="1051.75" x2="1120.73" y2="1051.75" stroke-width="1.5"/><line x1="163.75" y1="1044.80" x2="173.10" y2="1044.80" stroke-width="1.5"/><line x1="1111.38" y1="1044.80" x2="1120.73" y2="1044.80" stroke-width="1.5"/><line x1="163.75" y1="1037.84" x2="173.10" y2="1037.84" stroke-width="1.5"/><line x1="1111.38" y1="1037.84" x2="1120.73" y2="1037.84" stroke-width="1.5"/><line x1="154.35" y1="1030.88" x2="173.10" y2="1030.88" stroke-width="2.5"/><line x1="1111.38" y1="1030.88" x2="1130.13" y2="1030.88" stroke-width="2.5"/><line x1="163.75" y1="1023.93" x2="173.10" y2="1023.93" stroke-width="1.5"/><line x1="1111.38" y1="1023.93" x2="1120.73" y2="1023.93" stroke-width="1.5"/><line x1="163.75" y1="1016.97" x2="173.10" y2="1016.97" stroke-width="1.5"/><line x1="1111.38" y1="1016.97" x2="1120.73" y2="1016.97" stroke-width="1.5"/><line x1="163.75" y1="1010.01" x2="173.10" y2="1010.01" stroke-width="1.5"/><line x1="1111.38" y1="1010.01" x2="1120.73" y2="1010.01" stroke-width="1.5"/><line x1="163.75" y1="1003.06" x2="173.10" y2="1003.06" stroke-width="1.5"/><line x1="1111.38" y1="1003.06" x2="1120.73" y2="1003.06" stroke-width="1.5"/><line x1="154.35" y1="996.10" x2="173.10" y2="996.10" stroke-width="2.5"/><line x1="1111.38" y1="996.10" x2="1130.13" y2="996.10" stroke-width="2.5"/><line x1="163.75" y1="989.14" x2="173.10" y2="989.14" stroke-width="1.5"/><line x1="1111.38" y1="989.14" x2="1120.73" y2="989.14" stroke-width="1.5"/><line x1="163.75" y1="982.19" x2="173.10" y2="982.19" stroke-width="1.5"/><line x1="1111.38" y1="982.19" x2="1120.73" y2="982.19" stroke-width="1.5"/><line x1="163.75" y1="975.23" x2="173.10" y2="975.23" stroke-width="1.5"/><line x1="1111.38" y1="975.23" x2="1120.73" y2="975.23" stroke-width="1.5"/><line x1="163.75" y1="968.27" x2="173.10" y2="968.27" stroke-width="1.5"/><line x1="1111.38" y1="968.27" x2="1120.73" y2="968.27" stroke-width="1.5"/><line x1="154.35" y1="961.32" x2="173.10" y2="961.32" stroke-width="2.5"/><line x1="1111.38" y1="961.32" x2="1130.13" y2="961.32" stroke-width="2.5"/><line x1="163.75" y1="954.36" x2="173.10" y2="954.36" stroke-width="1.5"/><line x1="1111.38" y1="954.36" x2="1120.73" y2="954.36" stroke-width="1.5"/><line x1="163.75" y1="947.40" x2="173.10" y2="947.40" stroke-width="1.5"/><line x1="1111.38" y1="947.40" x2="1120.73" y2="947.40" stroke-width="1.5"/><line x1="163.75" y1="940.45" x2="173.10" y2="940.45" stroke-width="1.5"/><line x1="1111.38" y1="940.45" x2="1120.73" y2="940.45" stroke-width="1.5"/><line x1="163.75" y1="933.49" x2="173.10" y2="933.49" stroke-width="1.5"/><line x1="1111.38" y1="933.49" x2="1120.73" y2="933.49" stroke-width="1.5"/><line x1="154.35" y1="926.53" x2="173.10" y2="926.53" stroke-width="2.5"/><line x1="1111.38" y1="926.53" x2="1130.13" y2="926.53" stroke-width="2.5"/><line x1="163.75" y1="919.58" x2="173.10" y2="919.58" stroke-width="1.5"/><line x1="1111.38" y1="919.58" x2="1120.73" y2="919.58" stroke-width="1.5"/><line x1="163.75" y1="912.62" x2="173.10" y2="912.62" stroke-width="1.5"/><line x1="1111.38" y1="912.62" x2="1120.73" y2="912.62" stroke-width="1.5"/><line x1="163.75" y1="905.66" x2="173.10" y2="905.66" stroke-width="1.5"/><line x1="1111.38" y1="905.66" x2="1120.73" y2="905.66" stroke-width="1.5"/><line x1="163.75" y1="898.71" x2="173.10" y2="898.71" stroke-width="1.5"/><line x1="1111.38" y1="898.71" x2="1120.73" y2="898.71" stroke-width="1.5"/><line x1="154.35" y1="891.75" x2="173.10" y2="891.75" stroke-width="2.5"/><line x1="1111.38" y1="891.75" x2="1130.13" y2="891.75" stroke-width="2.5"/></g>
<rect x="173.10" y="891.75" width="938.28" height="208.70" fill="none" stroke="#000" stroke-width="2.5"/>
<line x1="314.55" y1="892.35" x2="314.55" y2="1100.45" stroke="#000" stroke-width="1.25" stroke-dasharray="4.7 6.63"/>
<line x1="456.00" y1="892.35" x2="456.00" y2="1100.45" stroke="#000" stroke-width="1.25" stroke-dasharray="4.7 6.63"/>
<line x1="597.45" y1="892.35" x2="597.45" y2="1100.45" stroke="#000" stroke-width="1.25" stroke-dasharray="4.7 6.63"/>
<line x1="738.90" y1="892.35" x2="738.90" y2="1100.45" stroke="#000" stroke-width="1.25" stroke-dasharray="4.7 6.63"/>
<line x1="880.35" y1="892.35" x2="880.35" y2="1100.45" stroke="#000" stroke-width="1.25" stroke-dasharray="4.7 6.63"/>
<line x1="1021.80" y1="892.35" x2="1021.80" y2="1100.45" stroke="#000" stroke-width="1.25" stroke-dasharray="4.7 6.63"/>
<text transform="translate(136.0,1100.75) scale(0.98,1.05)" font-size="26.5" text-anchor="end" dominant-baseline="central">0.300</text>
<text transform="translate(136.0,1065.97) scale(0.98,1.05)" font-size="26.5" text-anchor="end" dominant-baseline="central">0.400</text>
<text transform="translate(136.0,1031.18) scale(0.98,1.05)" font-size="26.5" text-anchor="end" dominant-baseline="central">0.500</text>
<text transform="translate(136.0,996.40) scale(0.98,1.05)" font-size="26.5" text-anchor="end" dominant-baseline="central">0.600</text>
<text transform="translate(136.0,961.62) scale(0.98,1.05)" font-size="26.5" text-anchor="end" dominant-baseline="central">0.700</text>
<text transform="translate(136.0,926.83) scale(0.98,1.05)" font-size="26.5" text-anchor="end" dominant-baseline="central">0.800</text>
<text transform="translate(136.0,892.05) scale(0.98,1.05)" font-size="26.5" text-anchor="end" dominant-baseline="central">0.900</text>
<text transform="translate(173.10,1157.75) scale(1,1.05)" font-size="26.5" text-anchor="middle">300</text>
<text transform="translate(314.55,1157.75) scale(1,1.05)" font-size="26.5" text-anchor="middle">330</text>
<text transform="translate(456.00,1157.75) scale(1,1.05)" font-size="26.5" text-anchor="middle">360</text>
<text transform="translate(597.45,1157.75) scale(1,1.05)" font-size="26.5" text-anchor="middle">390</text>
<text transform="translate(738.90,1157.75) scale(1,1.05)" font-size="26.5" text-anchor="middle">420</text>
<text transform="translate(880.35,1157.75) scale(1,1.05)" font-size="26.5" text-anchor="middle">450</text>
<text transform="translate(1021.80,1157.75) scale(1,1.05)" font-size="26.5" text-anchor="middle">480</text>
<text transform="translate(643.00,1205.90) scale(1,1.056)" font-size="33.5" text-anchor="middle">Years</text>
<text transform="translate(50.80,996.70) rotate(-90) scale(1,1.07)" font-size="33.1" text-anchor="middle">GIN Ice Area <tspan class="o1">1</tspan>0<tspan font-size="20.3" dy="-15"><tspan class="o1">1</tspan>2</tspan><tspan dy="15" dx="-1.3"> m</tspan><tspan font-size="20.3" dy="-15" dx="-0.4">2</tspan></text>
<g fill="#000">
<path transform="matrix(1.000000,0.000000,0.000000,1.037000,132.300,30.900) translate(257.252,0.000) scale(0.016384,-0.016895)" d="M515 0L696 0L696 1409L588 1409C560 1300 500 1190 415 1156C340 1125 260 1100 196 1097L196 1003L515 1003Z"/>
<path transform="matrix(0.980000,0.000000,0.000000,1.050000,136.000,246.160) translate(-44.234,9.000) scale(0.012950,-0.012950)" d="M515 0L696 0L696 1409L588 1409C560 1300 500 1190 415 1156C340 1125 260 1100 196 1097L196 1003L515 1003Z"/>
<path transform="matrix(0.980000,0.000000,0.000000,1.050000,136.000,201.440) translate(-44.234,9.000) scale(0.012950,-0.012950)" d="M515 0L696 0L696 1409L588 1409C560 1300 500 1190 415 1156C340 1125 260 1100 196 1097L196 1003L515 1003Z"/>
<path transform="matrix(0.980000,0.000000,0.000000,1.050000,136.000,156.710) translate(-44.234,9.000) scale(0.012950,-0.012950)" d="M515 0L696 0L696 1409L588 1409C560 1300 500 1190 415 1156C340 1125 260 1100 196 1097L196 1003L515 1003Z"/>
<path transform="matrix(0.000000,-1.000000,1.070000,0.000000,50.800,231.550) translate(68.483,0.000) scale(0.016160,-0.016160)" d="M515 0L696 0L696 1409L588 1409C560 1300 500 1190 415 1156C340 1125 260 1100 196 1097L196 1003L515 1003Z"/>
<path transform="matrix(0.000000,-1.000000,1.070000,0.000000,50.800,231.550) translate(105.295,-15.000) scale(0.009905,-0.009905)" d="M515 0L696 0L696 1409L588 1409C560 1300 500 1190 415 1156C340 1125 260 1100 196 1097L196 1003L515 1003Z"/>
<path transform="matrix(0.980000,0.000000,0.000000,1.050000,136.000,683.220) translate(-44.234,9.000) scale(0.012950,-0.012950)" d="M515 0L696 0L696 1409L588 1409C560 1300 500 1190 415 1156C340 1125 260 1100 196 1097L196 1003L515 1003Z"/>
<path transform="matrix(0.980000,0.000000,0.000000,1.050000,136.000,648.430) translate(-44.234,9.000) scale(0.012950,-0.012950)" d="M515 0L696 0L696 1409L588 1409C560 1300 500 1190 415 1156C340 1125 260 1100 196 1097L196 1003L515 1003Z"/>
<path transform="matrix(0.000000,-1.000000,1.070000,0.000000,35.900,613.950) translate(87.788,0.000) scale(0.016160,-0.016160)" d="M515 0L696 0L696 1409L588 1409C560 1300 500 1190 415 1156C340 1125 260 1100 196 1097L196 1003L515 1003Z"/>
<path transform="matrix(0.000000,-1.000000,1.070000,0.000000,35.900,613.950) translate(124.600,-15.000) scale(0.009905,-0.009905)" d="M515 0L696 0L696 1409L588 1409C560 1300 500 1190 415 1156C340 1125 260 1100 196 1097L196 1003L515 1003Z"/>
<path transform="matrix(0.000000,-1.000000,1.070000,0.000000,50.800,996.700) translate(47.334,0.000) scale(0.016160,-0.016160)" d="M515 0L696 0L696 1409L588 1409C560 1300 500 1190 415 1156C340 1125 260 1100 196 1097L196 1003L515 1003Z"/>
<path transform="matrix(0.000000,-1.000000,1.070000,0.000000,50.800,996.700) translate(84.147,-15.000) scale(0.009905,-0.009905)" d="M515 0L696 0L696 1409L588 1409C560 1300 500 1190 415 1156C340 1125 260 1100 196 1097L196 1003L515 1003Z"/>
</g>
</svg></body></html>
